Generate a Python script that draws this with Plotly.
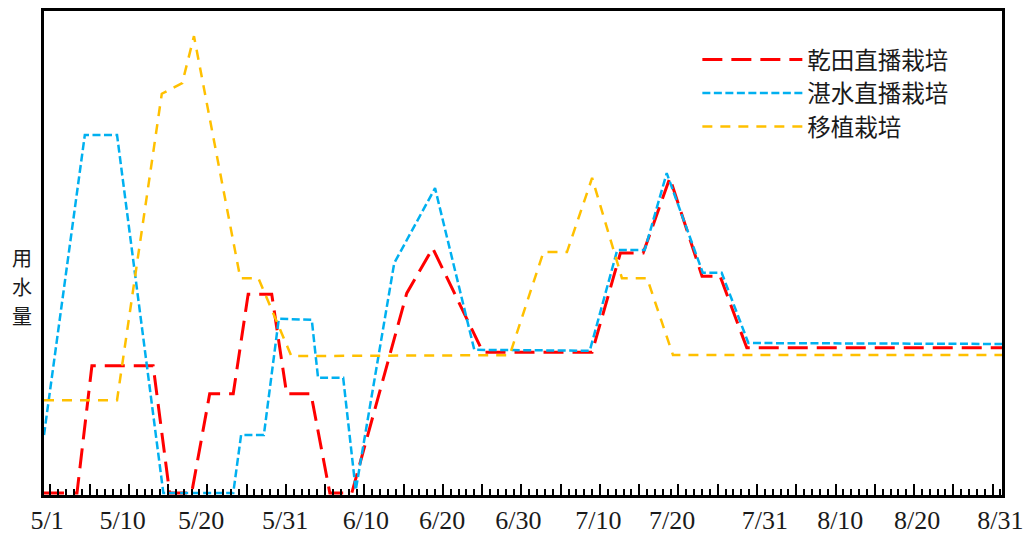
import plotly.graph_objects as go

# x = days after 5/1 (left edge of plot = 0), y = relative water use (0-100)
dry_x = [0, 4.2, 6.1, 13.9, 16.0, 18.8, 21.1, 24.1, 26.0, 29.0, 30.9, 34.0, 36.4, 39.2,
         46.2, 49.5, 55.9, 69.8, 73.4, 76.3, 79.7, 83.8, 86.1, 89.5, 122]
dry_y = [0.4, 0.4, 26.7, 26.7, 0.4, 0.4, 20.9, 20.9, 41.5, 41.5, 20.9, 20.9, 0.4, 0.4,
         41.7, 51.0, 29.5, 29.5, 50.0, 50.0, 65.5, 45.2, 45.2, 30.4, 30.4]

wet_x = [0, 5.2, 9.3, 15.2, 24.1, 25.1, 28.0, 29.9, 34.1, 34.9, 38.1, 39.7, 44.6, 49.8,
         54.8, 69.5, 73.0, 76.5, 79.3, 83.9, 86.3, 89.7, 122]
wet_y = [12.4, 74.4, 74.4, 0.4, 0.4, 12.4, 12.4, 36.4, 36.2, 24.2, 24.2, 1.0, 47.9, 63.4,
         30.0, 29.8, 50.6, 50.6, 66.5, 45.9, 45.9, 31.4, 31.2]

trans_x = [0, 9.3, 15.0, 17.6, 19.1, 25.0, 27.3, 31.5, 59.3, 63.6, 66.6, 69.8, 73.6, 76.8,
           80.1, 122]
trans_y = [19.6, 19.6, 82.9, 85.1, 94.8, 44.8, 44.8, 28.7, 28.9, 50.2, 50.2, 65.5, 44.8, 44.8,
           28.9, 28.9]

series_names = ["乾田直播栽培", "湛水直播栽培", "移植栽培"]
y_title_chars = ["用", "水", "量"]

tick_labels = ["5/1", "5/10", "5/20", "5/31", "6/10", "6/20", "6/30", "7/10", "7/20",
               "7/31", "8/10", "8/20", "8/31"]
tick_pos = [0.4, 10, 20, 30.7, 41, 50.7, 60.4, 70.6, 80, 91.8, 101.4, 111.2, 121.8]

fig = go.Figure()
fig.add_trace(go.Scatter(x=dry_x, y=dry_y, mode="lines", name=series_names[0],
                         line=dict(color="#FF0000", width=3, dash="20px,9px")))
fig.add_trace(go.Scatter(x=wet_x, y=wet_y, mode="lines", name=series_names[1],
                         line=dict(color="#00B0F0", width=2.5, dash="8px,3.5px")))
fig.add_trace(go.Scatter(x=trans_x, y=trans_y, mode="lines", name=series_names[2],
                         line=dict(color="#FFC000", width=2.5, dash="10px,8px")))
# empty trace to host the tick-mark axis
fig.add_trace(go.Scatter(x=[], y=[], xaxis="x2", showlegend=False, hoverinfo="skip"))

title_annotations = [
    dict(text=ch, xref="paper", yref="paper", x=-0.023, y=0.43, yshift=29 * (1 - i),
         xanchor="center", yanchor="middle", showarrow=False,
         font=dict(family="Noto Sans CJK SC", size=20, color="#1a1a1a"))
    for i, ch in enumerate(y_title_chars)
]

fig.update_layout(
    width=1026, height=528,
    margin=dict(l=36, r=32, t=3, b=41),
    paper_bgcolor="white", plot_bgcolor="white",
    showlegend=True,
    legend=dict(x=0.682, y=0.945, xanchor="left", yanchor="top",
                font=dict(family="Noto Sans CJK SC", size=23.5, color="#1a1a1a"),
                bgcolor="rgba(0,0,0,0)", itemwidth=100, tracegroupgap=0),
    xaxis=dict(range=[0, 122], tickmode="array", tickvals=tick_pos, ticktext=tick_labels,
               ticks="", showgrid=False, zeroline=False, automargin=False,
               showline=True, mirror=True, linecolor="black", linewidth=3,
               tickfont=dict(family="Liberation Serif", size=26, color="#1a1a1a"),
               ticklabelstandoff=0),
    xaxis2=dict(range=[0, 122], overlaying="x", anchor="y", side="bottom",
                tickmode="linear", tick0=0.8, dtick=5, ticks="inside", ticklen=11,
                tickwidth=1.5, tickcolor="black", showticklabels=False, automargin=False,
                showgrid=False, zeroline=False, showline=False,
                minor=dict(tickmode="linear", tick0=0.8, dtick=1, ticks="inside",
                           ticklen=6, tickwidth=1.5, tickcolor="black", showgrid=False)),
    yaxis=dict(range=[0, 100], showticklabels=False, ticks="", showgrid=False,
               zeroline=False, showline=True, mirror=True, linecolor="black", linewidth=3,
               automargin=False),
    annotations=title_annotations,
)

fig.write_html("out.html")
